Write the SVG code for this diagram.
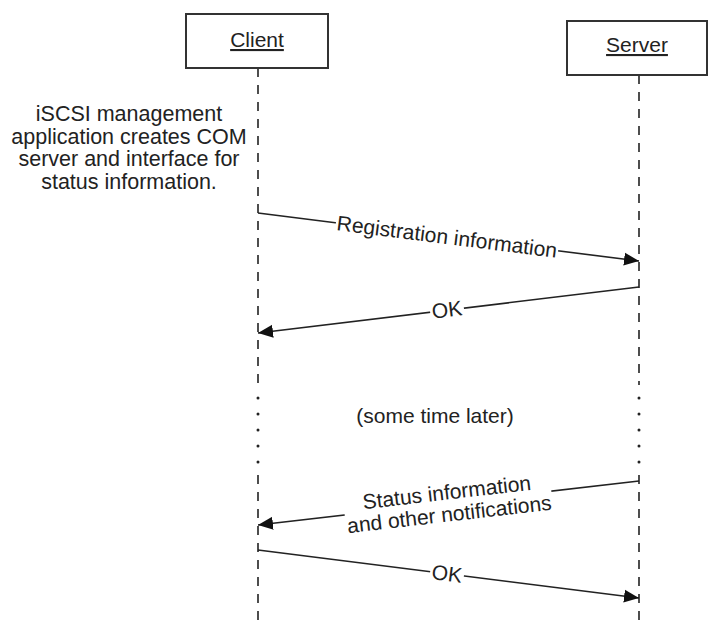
<svg xmlns="http://www.w3.org/2000/svg" width="709" height="621" viewBox="0 0 709 621">
  <style>
    text { font-family: "Liberation Sans", Arial, sans-serif; fill: #222; }
    .lbl { font-size: 21px; text-anchor: middle; }
    .note { font-size: 21.5px; text-anchor: middle; }
    .box { fill: #fff; stroke: #333; stroke-width: 2; }
    .life { fill: none; stroke: #222; stroke-width: 1.6; stroke-dasharray: 9 8; }
    .dot { fill: #222; }
    .msg { fill: none; stroke: #222; stroke-width: 1.6; marker-end: url(#head); }
    .gap { fill: #fff; }
  </style>
  <defs>
    <marker id="head" markerUnits="userSpaceOnUse" markerWidth="16" markerHeight="14" refX="15" refY="7" orient="auto">
      <path d="M0,0.5 L15,7 L0,13.5 Z" fill="#111"/>
    </marker>
  </defs>
  <rect width="709" height="621" fill="#fff"/>

  <!-- lifelines: dashed, with a dotted stretch for the elapsed time -->
  <g id="lifelines">
    <path class="life" d="M258,68 V385 M258,475 V621"/>
    <path class="life" d="M639,75 V385 M639,475 V621"/>
    <g class="dot">
      <circle cx="258" cy="398" r="1.5"/><circle cx="258" cy="414" r="1.5"/><circle cx="258" cy="430" r="1.5"/><circle cx="258" cy="446" r="1.5"/><circle cx="258" cy="462" r="1.5"/>
      <circle cx="639" cy="398" r="1.5"/><circle cx="639" cy="414" r="1.5"/><circle cx="639" cy="430" r="1.5"/><circle cx="639" cy="446" r="1.5"/><circle cx="639" cy="462" r="1.5"/>
    </g>
  </g>

  <g id="client">
    <rect class="box" x="186" y="14" width="142" height="54"/>
    <text class="lbl" x="257" y="47" text-decoration="underline">Client</text>
  </g>
  <g id="server">
    <rect class="box" x="567" y="21" width="140" height="54"/>
    <text class="lbl" x="637" y="52" text-decoration="underline">Server</text>
  </g>

  <g id="setup-note">
    <text class="note" x="129" y="121">iSCSI management</text>
    <text class="note" x="129" y="143.5">application creates COM</text>
    <text class="note" x="129" y="166">server and interface for</text>
    <text class="note" x="129" y="188.5">status information.</text>
  </g>

  <g id="connectors">
    <path class="msg" d="M258,213 L639,261"/>
    <path class="msg" d="M639,287 L258,333"/>
    <path class="msg" d="M639,481 L258,525"/>
    <path class="msg" d="M258,550 L639,598"/>

    <g transform="translate(447,237) rotate(7.18)">
      <rect class="gap" x="-112" y="-11" width="224" height="21"/>
      <text class="lbl" x="0" y="7">Registration information</text>
    </g>
    <g transform="translate(447,310) rotate(-6.89)">
      <rect class="gap" x="-17" y="-11" width="34" height="21"/>
      <text class="lbl" x="0" y="7">OK</text>
    </g>
    <g transform="translate(448,503) rotate(-6.59)">
      <rect class="gap" x="-104" y="-22" width="208" height="46"/>
      <text class="lbl" x="0" y="-3.5">Status information</text>
      <text class="lbl" x="0" y="18.5">and other notifications</text>
    </g>
    <g transform="translate(447,574) rotate(7.18)">
      <rect class="gap" x="-17" y="-11" width="34" height="21"/>
      <text class="lbl" x="0" y="7">OK</text>
    </g>
  </g>

  <text id="time-gap" class="lbl" x="435" y="423">(some time later)</text>
</svg>
